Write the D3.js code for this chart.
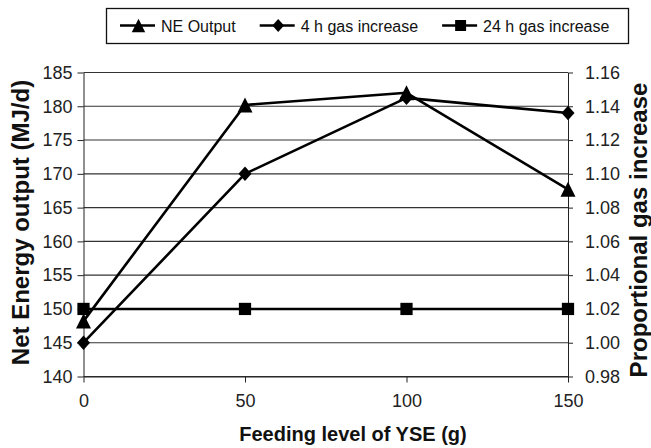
<!DOCTYPE html>
<html>
<head>
<meta charset="utf-8">
<script src="https://cdn.jsdelivr.net/npm/d3@7"></script>
<style>
  html, body { margin: 0; padding: 0; background: #fff; }
  svg { display: block; font-family: 'Liberation Sans', Arial, sans-serif; }
</style>
</head>
<body>
<div id="chart"></div>
<script>
// feeding level (g) on x
const feedLevels = [0, 50, 100, 150];
// NE output, left axis (MJ/d)
const neOutput = [148.2, 180.2, 182.0, 167.7];
// proportional gas increase, right axis
const gas4h = [1.0, 1.1, 1.145, 1.136];
const gas24h = [1.02, 1.02, 1.02, 1.02];

const xTicks = [0, 50, 100, 150];
const leftTicks = [140, 145, 150, 155, 160, 165, 170, 175, 180, 185];
const rightTicks = [0.98, 1.0, 1.02, 1.04, 1.06, 1.08, 1.1, 1.12, 1.14, 1.16];

const width = 651;
const height = 448;
const margin = { top: 72.5, right: 83, bottom: 71.5, left: 83.5 };

const x = d3.scaleLinear().domain([0, 150]).range([margin.left, width - margin.right]);
const yLeft = d3.scaleLinear().domain([140, 185]).range([height - margin.bottom, margin.top]);
const yRight = d3.scaleLinear().domain([0.98, 1.16]).range([height - margin.bottom, margin.top]);

// excel-like marker shapes
const triangle = {
  draw(ctx, size) {
    const r = Math.sqrt(size) / 2;
    ctx.moveTo(0, -r);
    ctx.lineTo(r, r);
    ctx.lineTo(-r, r);
    ctx.closePath();
  },
};
const diamond = {
  draw(ctx, size) {
    const r = Math.sqrt(size) / 2;
    ctx.moveTo(0, -r);
    ctx.lineTo(r * 0.9, 0);
    ctx.lineTo(0, r);
    ctx.lineTo(-r * 0.9, 0);
    ctx.closePath();
  },
};

const series = [
  { name: 'NE Output', values: neOutput, y: yLeft, shape: triangle, size: 225 },
  { name: '4 h gas increase', values: gas4h, y: yRight, shape: diamond, size: 210 },
  { name: '24 h gas increase', values: gas24h, y: yRight, shape: d3.symbolSquare, size: 150 },
];

const svg = d3
  .select('#chart')
  .append('svg')
  .attr('width', width)
  .attr('height', height)
  .attr('viewBox', [0, 0, width, height]);

// horizontal gridlines
svg
  .append('g')
  .selectAll('line')
  .data(leftTicks)
  .join('line')
  .attr('x1', margin.left)
  .attr('x2', width - margin.right)
  .attr('y1', (d) => yLeft(d))
  .attr('y2', (d) => yLeft(d))
  .attr('stroke', '#333')
  .attr('stroke-width', 1.1);

const tickFont = (g) =>
  g.selectAll('text').attr('font-size', 18).attr('fill', '#222');

svg
  .append('g')
  .attr('transform', `translate(${margin.left},0)`)
  .call(d3.axisLeft(yLeft).tickValues(leftTicks).tickSize(6).tickPadding(5).tickSizeOuter(0))
  .call(tickFont)
  .call((g) => g.selectAll('path, line').attr('stroke', '#222'));

svg
  .append('g')
  .attr('transform', `translate(${width - margin.right},0)`)
  .call(
    d3
      .axisRight(yRight)
      .tickValues(rightTicks)
      .tickFormat(d3.format('.2f'))
      .tickSize(5)
      .tickPadding(12)
      .tickSizeOuter(0)
  )
  .call(tickFont)
  .call((g) => g.selectAll('path, line').attr('stroke', '#222'));

svg
  .append('g')
  .attr('transform', `translate(0,${height - margin.bottom})`)
  .call(d3.axisBottom(x).tickValues(xTicks).tickSize(6).tickPadding(12).tickSizeOuter(0))
  .call(tickFont)
  .call((g) => g.selectAll('path, line').attr('stroke', '#222'));

// series lines + markers
series.forEach((s) => {
  const line = d3
    .line()
    .x((d, i) => x(feedLevels[i]))
    .y((d) => s.y(d));

  svg
    .append('path')
    .datum(s.values)
    .attr('fill', 'none')
    .attr('stroke', '#000')
    .attr('stroke-width', 2.6)
    .attr('stroke-linejoin', 'round')
    .attr('d', line);

  svg
    .append('g')
    .selectAll('path')
    .data(s.values)
    .join('path')
    .attr('transform', (d, i) => `translate(${x(feedLevels[i])},${s.y(d)})`)
    .attr('d', d3.symbol(s.shape, s.size))
    .attr('fill', '#000');
});

// axis titles
svg
  .append('text')
  .attr('x', 353)
  .attr('y', 441)
  .attr('text-anchor', 'middle')
  .attr('font-size', 20)
  .attr('font-weight', 'bold')
  .attr('fill', '#111')
  .text('Feeding level of YSE (g)');

svg
  .append('text')
  .attr('transform', 'translate(28.5,222.5) rotate(-90)')
  .attr('text-anchor', 'middle')
  .attr('font-size', 24)
  .attr('font-weight', 'bold')
  .attr('fill', '#111')
  .text('Net Energy output (MJ/d)');

svg
  .append('text')
  .attr('transform', 'translate(647,230) rotate(-90)')
  .attr('text-anchor', 'middle')
  .attr('font-size', 24)
  .attr('font-weight', 'bold')
  .attr('fill', '#111')
  .text('Proportional gas increase');

// legend
const legend = svg.append('g');
legend
  .append('rect')
  .attr('x', 106.5)
  .attr('y', 8.5)
  .attr('width', 522)
  .attr('height', 35)
  .attr('fill', '#fff')
  .attr('stroke', '#111')
  .attr('stroke-width', 1.3);

let lx = 120;
series.forEach((s) => {
  const item = legend.append('g').attr('transform', `translate(${lx},25.5)`);
  item
    .append('line')
    .attr('x1', 0)
    .attr('x2', 35)
    .attr('stroke', '#000')
    .attr('stroke-width', 2.6);
  item
    .append('path')
    .attr('transform', 'translate(18.5,0)')
    .attr('d', d3.symbol(s.shape, s.size * 0.8))
    .attr('fill', '#000');
  const t = item
    .append('text')
    .attr('x', 41)
    .attr('y', 6)
    .attr('font-size', 16)
    .attr('fill', '#111')
    .text(s.name);
  lx += 41 + t.node().getComputedTextLength() + 24;
});
</script>
</body>
</html>
